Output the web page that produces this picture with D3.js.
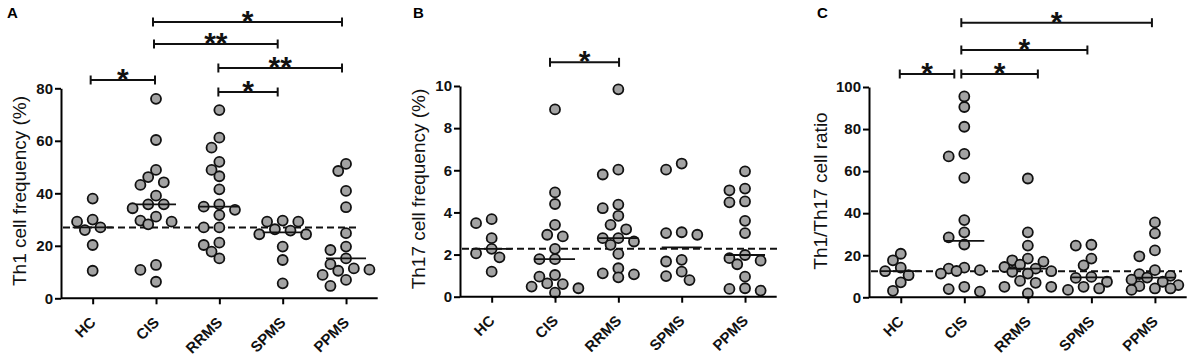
<!DOCTYPE html>
<html><head><meta charset="utf-8">
<script src="https://cdn.jsdelivr.net/npm/d3@7"></script>
<style>
html,body{margin:0;padding:0;background:#fff;}
svg{display:block;font-family:"Liberation Sans",Arial,Helvetica,sans-serif;}
</style></head>
<body><svg id="chart" width="1192" height="357"></svg>
<script>
// ---------- data ----------
const categories = ["HC", "CIS", "RRMS", "SPMS", "PPMS"];

// Panel A: Th1 cell frequency (%)
const th1HC   = [38, 30, 29.2, 27, 26, 20.3, 10.5];
const th1CIS  = [76, 60.3, 48.9, 46.2, 44.2, 43.2, 39.1, 35.8, 35.8, 34.3, 31.1, 29.6, 29.2, 28.2, 12.7, 10.8, 6.3];
const th1RRMS = [71.7, 61.2, 57.4, 52, 48.9, 46.5, 41.5, 35.8, 34.9, 33.7, 31.7, 27, 27, 21.2, 20.3, 17.8, 15.2];
const th1SPMS = [29.6, 29.2, 29.2, 26.3, 25.8, 24.4, 24.4, 19.7, 14.6, 5.7];
const th1PPMS = [51.2, 48.5, 40.9, 34.7, 24.8, 19.7, 18.4, 15.2, 13, 11.4, 10.9, 10.5, 8.9, 7, 4.7];

// Panel B: Th17 cell frequency (%)
const th17HC   = [3.68, 3.49, 2.78, 2.27, 2.06, 1.87, 1.19];
const th17CIS  = [8.89, 4.95, 4.4, 3.41, 2.94, 2.86, 2.27, 1.78, 1.78, 1.03, 0.95, 0.63, 0.6, 0.48, 0.4, 0.19];
const th17RRMS = [9.84, 6.03, 5.8, 4.37, 4.2, 3.84, 3.41, 3.2, 2.78, 2.78, 2.62, 2.46, 2.03, 1.35, 1.11, 1.06, 0.92];
const th17SPMS = [6.32, 6.03, 3.06, 3.02, 2.94, 1.75, 1.67, 1.19, 0.98, 0.79];
const th17PPMS = [5.95, 5.13, 5.05, 4.52, 4.48, 3.6, 3.02, 1.98, 1.83, 1.71, 1.54, 0.95, 0.4, 0.37, 0.29];

// Panel C: Th1/Th17 cell ratio
const ratioHC   = [20.7, 17.6, 14.1, 12.4, 10.5, 7.1, 3.1];
const ratioCIS  = [95.5, 90.5, 81.1, 68.2, 67, 56.8, 36.7, 30.9, 28.5, 25.1, 14.1, 13.6, 12.9, 12.5, 11.3, 5, 3.9, 2.7];
const ratioRRMS = [56.5, 30.9, 24.6, 18.4, 17.6, 17, 15.5, 14.4, 13.6, 12.4, 12.1, 11.3, 7.8, 6.9, 5, 5, 1.9];
const ratioSPMS = [25, 24.6, 18.4, 15.2, 9.7, 9.2, 7.4, 5, 4.2, 3.5];
const ratioPPMS = [35.6, 30.4, 22.3, 19.5, 12.9, 11, 10.2, 9.4, 8.4, 7.4, 5.8, 5.3, 4.2, 4.2, 3.5];

// tick values
const ticksA = [0, 20, 40, 60, 80];
const ticksB = [0, 2, 4, 6, 8, 10];
const ticksC = [0, 20, 40, 60, 80, 100];

// significance brackets: [group1, group2, label]
const bracketsA = [["CIS", "PPMS", "*"], ["CIS", "SPMS", "**"], ["RRMS", "PPMS", "**"], ["HC", "CIS", "*"], ["RRMS", "SPMS", "*"]];
const bracketsB = [["CIS", "RRMS", "*"]];
const bracketsC = [["CIS", "PPMS", "*"], ["CIS", "SPMS", "*"], ["HC", "CIS", "*"], ["CIS", "RRMS", "*"]];

// ---------- layout ----------
const panels = [
  {letter: "A", letterX: 7, x0: 61, x1: 377.7, yTop: 88.3, yZero: 298.3, domain: [0, 80], ticks: ticksA,
   label: "Th1 cell frequency (%)", labelX: 26, labelY: 191,
   series: [th1HC, th1CIS, th1RRMS, th1SPMS, th1PPMS], dashEnd: 360,
   brackets: bracketsA, bracketY: [22, 44, 68, 80, 92], nudge: [[-3, -4], [-2, -5], [-1, -4], [-2, -1], [-1, -5]]},
  {letter: "B", letterX: 413, x0: 460, x1: 776.7, yTop: 86, yZero: 296.7, domain: [0, 10], ticks: ticksB,
   label: "Th17 cell frequency (%)", labelX: 425, labelY: 189,
   series: [th17HC, th17CIS, th17RRMS, th17SPMS, th17PPMS], dashEnd: 777,
   brackets: bracketsB, bracketY: [62.3], nudge: [[-5, 0.7]]},
  {letter: "C", letterX: 817, x0: 869, x1: 1186.7, yTop: 87, yZero: 297.3, domain: [0, 100], ticks: ticksC,
   label: "Th1/Th17 cell ratio", labelX: 827, labelY: 191,
   series: [ratioHC, ratioCIS, ratioRRMS, ratioSPMS, ratioPPMS], dashEnd: 1182,
   brackets: bracketsC, bracketY: [22.7, 50, 74, 74], nudge: [[-3, -3], [-3, -4], [-1, -10], [-3, 10]]}
];

const R = 5, STEP = 7.8, MIND = 10, KMAX = 3;
const svg = d3.select("#chart");
svg.append("rect").attr("width", 1192).attr("height", 357).attr("fill", "#fff");

// compact dot-plot placement on a half-diameter grid, limited width
function swarm(values, y) {
  const pts = values.map(v => ({v, y: y(v)})).sort((a, b) => a.y - b.y);
  const placed = [];
  const cands = [0];
  for (let k = 1; k <= KMAX; k++) cands.push(-k * STEP, k * STEP);
  for (const p of pts) {
    let best = 0, bestD = -1;
    for (const dx of cands) {
      const d = placed.length ? d3.min(placed, q => Math.hypot(q.dx - dx, q.y - p.y)) : Infinity;
      if (d >= MIND) { best = dx; bestD = d; break; }
      if (d > bestD + 0.5) { bestD = d; best = dx; }
    }
    p.dx = best;
    placed.push(p);
  }
  return pts;
}

panels.forEach(P => {
  const g = svg.append("g");
  const x = d3.scalePoint().domain(categories).range([P.x0, P.x1]).padding(0.5);
  const y = d3.scaleLinear().domain(P.domain).range([P.yZero, P.yTop]);

  g.append("text").attr("x", P.letterX).attr("y", 18).attr("font-size", 15).attr("font-weight", "bold").text(P.letter);

  g.append("text").attr("transform", `translate(${P.labelX},${P.labelY}) rotate(-90)`)
    .attr("text-anchor", "middle").attr("font-size", 19).attr("fill", "#111").text(P.label);

  const ref = d3.median(P.series[0]);
  g.append("line").attr("x1", P.x0 + 2).attr("x2", P.dashEnd).attr("y1", y(ref)).attr("y2", y(ref))
    .attr("stroke", "#111").attr("stroke-width", 2).attr("stroke-dasharray", "7,4");

  P.series.forEach((vals, i) => {
    const cx = x(categories[i]);
    const pts = swarm(vals, y);
    g.append("g").selectAll("circle").data(pts).join("circle")
      .attr("cx", d => cx + d.dx).attr("cy", d => d.y).attr("r", R)
      .attr("fill", "#a3a3a3").attr("stroke", "#111").attr("stroke-width", 1.8);
    const med = d3.median(vals);
    g.append("line").attr("x1", cx - 20).attr("x2", cx + 20).attr("y1", y(med)).attr("y2", y(med))
      .attr("stroke", "#111").attr("stroke-width", 1.8);
  });

  const ya = g.append("g").attr("transform", `translate(${P.x0},0)`)
    .call(d3.axisLeft(y).tickValues(P.ticks).tickSize(6).tickSizeOuter(0).tickPadding(2));
  ya.select(".domain").attr("stroke-width", 2);
  ya.selectAll(".tick line").attr("stroke-width", 2);
  ya.selectAll(".tick text").attr("font-size", 15).attr("font-weight", "bold").attr("fill", "#111")
    .attr("font-family", "Liberation Sans, Arial, sans-serif");

  const xa = g.append("g").attr("transform", `translate(0,${P.yZero})`)
    .call(d3.axisBottom(x).tickSize(6).tickSizeOuter(0).tickFormat(""));
  xa.select(".domain").attr("stroke-width", 2).attr("d", `M${P.x0},0H${P.x1}`);
  xa.selectAll(".tick line").attr("stroke-width", 2);
  xa.selectAll(".tick text").remove();
  g.append("g").selectAll("text").data(categories).join("text")
    .attr("transform", d => `translate(${x(d) + 4},${P.yZero + 25}) rotate(-45)`)
    .attr("text-anchor", "end").attr("font-size", 15).attr("font-weight", "bold").attr("fill", "#111")
    .text(d => d);

  P.brackets.forEach((b, i) => {
    const by = P.bracketY[i];
    const xa1 = x(b[0]) + P.nudge[i][0], xb1 = x(b[1]) + P.nudge[i][1];
    const bg = g.append("g").attr("stroke", "#111").attr("stroke-width", 2);
    bg.append("line").attr("x1", xa1).attr("x2", xb1).attr("y1", by).attr("y2", by);
    bg.append("line").attr("x1", xa1).attr("x2", xa1).attr("y1", by - 4.5).attr("y2", by + 4.5);
    bg.append("line").attr("x1", xb1).attr("x2", xb1).attr("y1", by - 4.5).attr("y2", by + 4.5);
    g.append("text").attr("x", (xa1 + xb1) / 2).attr("y", by + 9).attr("text-anchor", "middle")
      .attr("font-size", 30).attr("font-weight", "bold").attr("fill", "#111").text(b[2]);
  });
});
</script></body></html>
